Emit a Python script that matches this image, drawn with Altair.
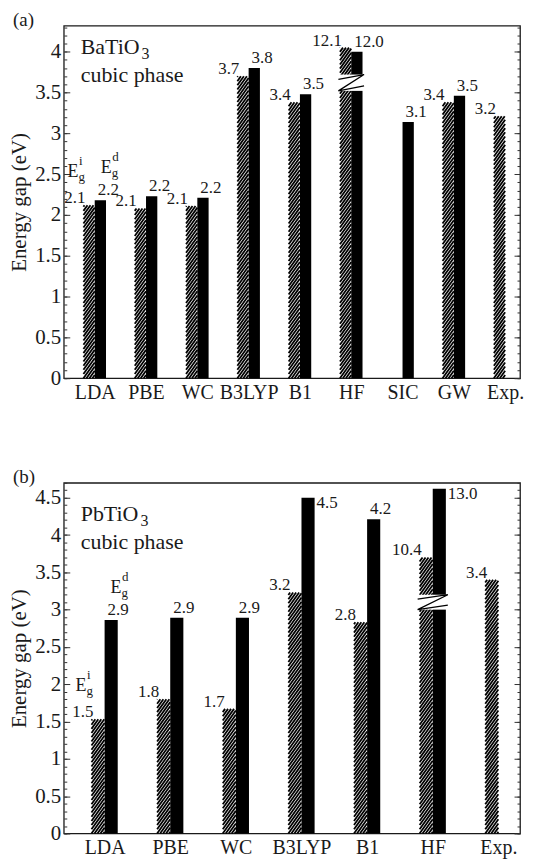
import math
import altair as alt
import pandas as pd

FONT = "Liberation Serif, Times New Roman, Times, serif"
INK = "#1a1a1a"

# ---------------- Panel (a): BaTiO3 ----------------
methods_a = ["LDA", "PBE", "WC", "B3LYP", "B1", "HF", "SIC", "GW", "Exp."]
indirect_a = [2.12, 2.08, 2.11, 3.70, 3.38, 4.05, None, 3.38, 3.21]
indirect_text_a = ["2.1", "2.1", "2.1", "3.7", "3.4", "12.1", None, "3.4", "3.2"]
direct_a = [2.18, 2.23, 2.21, 3.80, 3.48, 4.00, 3.14, 3.46, None]
direct_text_a = ["2.2", "2.2", "2.2", "3.8", "3.5", "12.0", "3.1", "3.5", None]
break_a = {"method": "HF", "low": 3.52, "high": 3.72}
yticks_a = [0, 0.5, 1, 1.5, 2, 2.5, 3, 3.5, 4]
ymax_a = 4.32
compound_a = ["BaTiO", "3"]

# ---------------- Panel (b): PbTiO3 ----------------
methods_b = ["LDA", "PBE", "WC", "B3LYP", "B1", "HF", "Exp."]
indirect_b = [1.53, 1.80, 1.67, 3.23, 2.83, 3.70, 3.40]
indirect_text_b = ["1.5", "1.8", "1.7", "3.2", "2.8", "10.4", "3.4"]
direct_b = [2.86, 2.89, 2.89, 4.50, 4.21, 4.62, None]
direct_text_b = ["2.9", "2.9", "2.9", "4.5", "4.2", "13.0", None]
break_b = {"method": "HF", "low": 3.00, "high": 3.20}
yticks_b = [0, 0.5, 1, 1.5, 2, 2.5, 3, 3.5, 4, 4.5]
ymax_b = 4.7
compound_b = ["PbTiO", "3"]

phase_text = "cubic phase"
ytitle = "Energy gap (eV)"
gap_symbol = "E"
gap_sub = "g"
gap_sup = ["i", "d"]


def panel(letter, methods, ind, ind_txt, dirv, dir_txt, brk, yticks, ymax,
          compound, W, H, xdom, barw, title_y, sub_x):
    n = len(methods)
    ppx = W / (xdom[1] - xdom[0])
    ppy = H / ymax
    xscale = alt.Scale(domain=xdom, nice=False, zero=False)
    yscale = alt.Scale(domain=[0, ymax], nice=False, zero=False)
    labels_js = "[" + ",".join("'%s'" % m for m in methods) + "]"
    xaxis = alt.Axis(values=list(range(n)), labelExpr=labels_js + "[datum.value]",
                     ticks=False, domain=False, grid=False, title=None,
                     labelFont=FONT, labelFontSize=20, labelColor=INK,
                     labelPadding=4, labelFlush=False, labelOverlap=False)

    def X(f):
        return alt.X(f, type="quantitative", scale=xscale, axis=xaxis)

    def Y(f):
        return alt.Y(f, type="quantitative", scale=yscale, axis=None)

    bars = []
    for i, m in enumerate(methods):
        if ind[i] is not None:
            bars.append({"m": m, "s": "i", "x0": i - barw, "x1": i, "h": ind[i],
                         "t": ind_txt[i], "b": 0.0})
        if dirv[i] is not None:
            bars.append({"m": m, "s": "d", "x0": i, "x1": i + barw, "h": dirv[i],
                         "t": dir_txt[i], "b": 0.0})
    bdf = pd.DataFrame(bars)
    # labels that would run out of the frame are placed beside the bar
    lab_h = 18.0 / ppy
    bdf["side"] = (bdf["h"] + lab_h + 5.0 / ppy > ymax)
    hat = bdf[bdf.s == "i"]
    blk = bdf[bdf.s == "d"]

    # hatch strokes derived from the hatched bars
    rise = 1.4 * barw * ppx / ppy
    step = 4.2 / ppy
    hrows = []
    for _, r in hat.iterrows():
        h = r["h"]
        xl = r["x0"]
        k0 = math.floor(-rise / step)
        k1 = math.floor(h / step)
        for k in range(k0, k1 + 1):
            y0 = k * step
            ya, yb = y0, y0 + rise
            xa, xb = xl, xl + barw
            if ya < 0:
                xa = xl + (-y0) / rise * barw
                ya = 0.0
            if yb > h:
                xb = xl + (h - y0) / rise * barw
                yb = h
            if xb - xa <= 1e-6:
                continue
            hrows.append({"xa": xa, "xb": xb, "ya": ya, "yb": yb})
    hdf = pd.DataFrame(hrows)

    # axis break
    bi = methods.index(brk["method"])
    lo, hi = brk["low"], brk["high"]
    g = hi - lo
    L, R = bi - barw - 0.03, bi + barw + 0.03
    gap_df = pd.DataFrame([{"xa": L, "xb": R, "ya": lo, "yb": hi}])
    zig_df = pd.DataFrame([
        {"x": L, "y": hi - 0.3 * g, "o": 0},
        {"x": R, "y": hi, "o": 1},
        {"x": L, "y": lo, "o": 2},
        {"x": R, "y": lo + 0.3 * g, "o": 3},
    ])

    layers = []
    txt = dict(font=FONT, fontSize=17, color=INK)
    # value labels (under the bars)
    layers.append(alt.Chart(hat).mark_text(align="right", baseline="alphabetic",
                                           dx=2, dy=-2, **txt)
                  .encode(x=X("x0"), y=Y("h"), text="t:N"))
    layers.append(alt.Chart(blk).transform_filter("!datum.side")
                  .mark_text(align="left", baseline="alphabetic", dx=3, dy=-5, **txt)
                  .encode(x=X("x0"), y=Y("h"), text="t:N"))
    layers.append(alt.Chart(blk).transform_filter("datum.side")
                  .mark_text(align="left", baseline="top", dx=2, dy=-3, **txt)
                  .encode(x=X("x1"), y=Y("h"), text="t:N"))
    # bars
    layers.append(alt.Chart(blk).mark_rect(color="black")
                  .encode(x=X("x0"), x2="x1", y=Y("h"), y2="b"))
    layers.append(alt.Chart(hdf).mark_rule(color="black", strokeWidth=1.8, strokeCap="butt")
                  .encode(x=X("xa"), x2="xb", y=Y("ya"), y2="yb"))
    # break
    layers.append(alt.Chart(gap_df).mark_rect(color="white")
                  .encode(x=X("xa"), x2="xb", y=Y("ya"), y2="yb"))
    layers.append(alt.Chart(zig_df).mark_line(color="black", strokeWidth=1.3)
                  .encode(x=X("x"), y=Y("y"), order="o:Q"))

    # E_g^i / E_g^d annotations over the first method
    first = bdf[bdf.m == methods[0]]
    for s, sup, dx, dy in [("i", gap_sup[0], -16, -28), ("d", gap_sup[1], 6, -27)]:
        d = first[first.s == s]
        layers.append(alt.Chart(d).mark_text(align="left", baseline="alphabetic",
                                             dx=dx, dy=dy, text=gap_symbol,
                                             font=FONT, fontSize=18, color=INK)
                      .encode(x=X("x0"), y=Y("h")))
        layers.append(alt.Chart(d).mark_text(align="left", baseline="alphabetic",
                                             dx=dx + 11, dy=dy + 4, text=gap_sub,
                                             font=FONT, fontSize=13, color=INK)
                      .encode(x=X("x0"), y=Y("h")))
        layers.append(alt.Chart(d).mark_text(align="left", baseline="alphabetic",
                                             dx=dx + 11.5, dy=dy - 12, text=sup,
                                             font=FONT, fontSize=13, color=INK)
                      .encode(x=X("x0"), y=Y("h")))

    one = pd.DataFrame([{"k": 0}])
    layers.append(alt.Chart(one).mark_text(align="left", baseline="alphabetic",
                                           text=compound[0], font=FONT, fontSize=22, color=INK)
                  .encode(x=alt.value(17), y=alt.value(title_y[0])))
    layers.append(alt.Chart(one).mark_text(align="left", baseline="alphabetic",
                                           text=compound[1], font=FONT, fontSize=16, color=INK)
                  .encode(x=alt.value(sub_x), y=alt.value(title_y[0] + 5)))
    layers.append(alt.Chart(one).mark_text(align="left", baseline="alphabetic",
                                           text=phase_text, font=FONT, fontSize=22, color=INK)
                  .encode(x=alt.value(17), y=alt.value(title_y[1])))
    layers.append(alt.Chart(one).mark_text(align="left", baseline="alphabetic",
                                           text=letter, font=FONT, fontSize=19, color=INK)
                  .encode(x=alt.value(-51), y=alt.value(0)))

    # axes: inward major and minor ticks on both sides
    minor = [round(k * 0.1, 1) for k in range(int(ymax * 10) + 1)]
    tdf = pd.DataFrame({"v": minor})
    common = dict(domain=False, grid=False, tickColor="#333", tickWidth=1)
    axes = [
        alt.Axis(orient="left", values=yticks, offset=-6, tickSize=6,
                 labelExpr="format(datum.value, '.1~f')", labelFont=FONT,
                 labelFontSize=21, labelColor=INK, labelPadding=3,
                 title=ytitle, titleFont=FONT, titleFontSize=21,
                 titleFontWeight="normal", titleColor=INK, titlePadding=5, **common),
        alt.Axis(orient="left", values=minor, offset=-3, tickSize=3, labels=False,
                 title=None, **common),
        alt.Axis(orient="right", values=yticks, offset=-6, tickSize=6, labels=False,
                 title=None, **common),
        alt.Axis(orient="right", values=minor, offset=-3, tickSize=3, labels=False,
                 title=None, **common),
    ]
    for ax in axes:
        layers.append(alt.Chart(tdf).mark_point(opacity=0)
                      .encode(y=alt.Y("v:Q", scale=yscale, axis=ax)))

    return (alt.layer(*layers)
            .resolve_axis(y="independent")
            .properties(width=W, height=H))


top = panel("(a)", methods_a, indirect_a, indirect_text_a, direct_a, direct_text_a,
            break_a, yticks_a, ymax_a, compound_a, 458, 354, [-0.603, 8.29], 0.22,
            (29, 57), 78)
bottom = panel("(b)", methods_b, indirect_b, indirect_text_b, direct_b, direct_text_b,
               break_b, yticks_b, ymax_b, compound_b, 458, 352, [-0.622, 6.33], 0.20,
               (38, 66), 77)

chart = (alt.vconcat(top, bottom, spacing=64)
         .properties(padding=0, background="white")
         .configure_view(stroke=INK, strokeWidth=1.3))

chart.save("out.html", embed_options={"renderer": "svg", "actions": False})
